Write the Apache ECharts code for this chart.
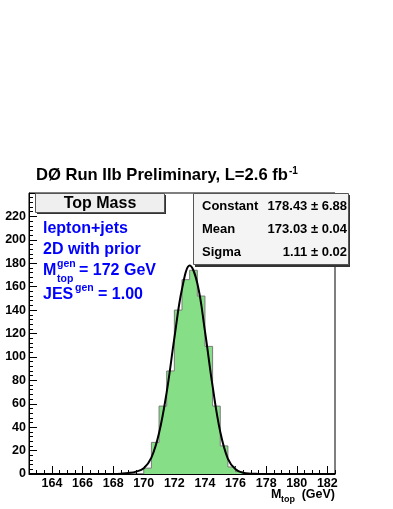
<!DOCTYPE html>
<html>
<head>
<meta charset="utf-8">
<script src="https://cdn.jsdelivr.net/npm/echarts@6/dist/echarts.min.js"></script>
<style>
html, body { margin: 0; padding: 0; background: #fff; }
#chart { width: 393px; height: 509px; }
</style>
</head>
<body>
<div id="chart"></div>
<script>
// histogram: lower bin edges and counts (bin width 0.5 GeV)
var binLow = [170.0, 170.5, 171.0, 171.5, 172.0, 172.5, 173.0, 173.5, 174.0, 174.5, 175.0, 175.5, 176.0];
var binCounts = [5, 27, 58, 88, 140, 166, 174, 152, 109, 58, 24, 6, 2];
var binWidth = 0.5;

// gaussian fit curve
var fitX = [162.5, 167.0, 168.0, 168.5, 169.0, 169.5, 170.0, 170.5, 171.0, 171.5, 172.0, 172.5, 173.0, 173.5, 174.0, 174.5, 175.0, 175.5, 176.0, 176.5, 177.0, 177.5, 178.0, 182.5];
var fitY = [0, 0, 0.1, 0.3, 0.8, 2, 5, 14, 35, 70, 116, 158, 178, 163, 122, 75, 36, 13, 4, 1, 0.3, 0.1, 0, 0];

var xTicks = [164, 166, 168, 170, 172, 174, 176, 178, 180, 182];
var statNames = ['Constant', 'Mean', 'Sigma'];
var statValues = ['178.43 \u00b1 6.88', '173.03 \u00b1 0.04', '1.11 \u00b1 0.02'];

var myChart = echarts.init(document.getElementById('chart'));
var FONT = '"Liberation Sans", Arial, Helvetica, sans-serif';

// outline of the histogram as step points
var histPoints = [[binLow[0], 0]];
for (var i = 0; i < binLow.length; i++) {
	histPoints.push([binLow[i], binCounts[i]]);
}
histPoints.push([binLow[binLow.length - 1] + binWidth, 0]);

var fitPoints = [];
for (var i = 0; i < fitX.length; i++) {
	fitPoints.push([fitX[i], fitY[i]]);
}

function txt(x, y, s, size, color, align) {
	return {
		type: 'text', z: 101,
		style: {
			x: x, y: y, text: s,
			font: 'bold ' + size + 'px ' + FONT,
			fill: color || '#000',
			align: align || 'left',
			verticalAlign: 'middle'
		}
	};
}

var graphics = [
	// title
	{
		type: 'text', z: 101,
		style: {
			x: 36, y: 175, verticalAlign: 'middle',
			text: '{m|D\u00d8 Run IIb Preliminary, L=2.6 fb}{s|-1}',
			rich: {
				m: { font: 'bold 16.6px ' + FONT, fill: '#000', lineHeight: 18 },
				s: { font: 'bold 10px ' + FONT, fill: '#000', verticalAlign: 'top', lineHeight: 18, padding: [0, 0, 0, 1] }
			}
		}
	},
	// "Top Mass" box
	{ type: 'rect', z: 100, shape: { x: 37, y: 195, width: 129, height: 19 }, style: { fill: '#333' } },
	{ type: 'rect', z: 100, shape: { x: 35.5, y: 193.5, width: 129, height: 19 }, style: { fill: '#efefef', stroke: '#555', lineWidth: 1 } },
	txt(100, 204, 'Top Mass', 16, '#000', 'center'),
	// stats box
	{ type: 'rect', z: 100, shape: { x: 195, y: 195, width: 155, height: 72 }, style: { fill: '#333' } },
	{ type: 'rect', z: 100, shape: { x: 193.5, y: 193.5, width: 155, height: 71 }, style: { fill: '#f4f4f4', stroke: '#555', lineWidth: 1 } },
	// blue text
	txt(43, 229, 'lepton+jets', 16, '#0000ff'),
	txt(43, 250, '2D with prior', 16, '#0000ff'),
	txt(43, 271, 'M', 16, '#0000ff'),
	txt(57, 264, 'gen', 10.5, '#0000ff'),
	txt(57, 279, 'top', 10.5, '#0000ff'),
	txt(79, 271, '= 172 GeV', 16, '#0000ff'),
	txt(43, 295, 'JES', 16, '#0000ff'),
	txt(75, 288, 'gen', 10.5, '#0000ff'),
	txt(98, 295, '= 1.00', 16, '#0000ff'),
	// x axis title
	txt(271, 495, 'M', 12.5),
	txt(281, 500, 'top', 9),
	txt(335, 495, '(GeV)', 12.5, '#000', 'right')
];
for (var i = 0; i < statNames.length; i++) {
	graphics.push(txt(202, 206 + i * 23, statNames[i], 13));
	graphics.push(txt(347, 206 + i * 23, statValues[i], 13, '#000', 'right'));
}

var option = {
	animation: false,
	backgroundColor: '#fff',
	grid: {
		left: 29, right: 58, top: 193, bottom: 35,
		show: true, borderColor: '#000', borderWidth: 1, backgroundColor: 'transparent'
	},
	xAxis: [{
		type: 'value', min: 162.5, max: 182.5,
		axisLine: { show: true, lineStyle: { color: '#000', width: 1 } },
		axisTick: { show: true, inside: true, length: 8, customValues: xTicks, lineStyle: { color: '#000' } },
		axisLabel: { customValues: xTicks, color: '#000', fontFamily: FONT, fontWeight: 'bold', fontSize: 12.5, margin: 3 },
		splitLine: { show: false }
	}, {
		type: 'value', min: 162.5, max: 182.5, interval: 0.5, position: 'bottom',
		axisLine: { show: false },
		axisTick: { show: true, inside: true, length: 4, lineStyle: { color: '#000' } },
		axisLabel: { show: false },
		splitLine: { show: false }
	}],
	yAxis: {
		type: 'value', min: 0, max: 240, interval: 20,
		axisLine: { show: true, lineStyle: { color: '#000', width: 1 } },
		axisTick: { show: true, inside: true, length: 8, lineStyle: { color: '#000' } },
		minorTick: { show: true, splitNumber: 5, length: 4, lineStyle: { color: '#000' } },
		axisLabel: { color: '#000', fontFamily: FONT, fontWeight: 'bold', fontSize: 12.5, margin: 3, showMaxLabel: false },
		splitLine: { show: false }
	},
	series: [{
		name: 'hist', type: 'line', step: 'end', xAxisIndex: 0,
		data: histPoints, symbol: 'none', z: 2,
		lineStyle: { color: '#7a7a7a', width: 1 },
		areaStyle: { color: '#86df86', opacity: 1 }
	}, {
		name: 'fit', type: 'line', smooth: 0.4, xAxisIndex: 0,
		data: fitPoints, symbol: 'none', z: 3,
		lineStyle: { color: '#000', width: 2 }
	}],
	graphic: graphics
};
myChart.setOption(option);
</script>
</body>
</html>
